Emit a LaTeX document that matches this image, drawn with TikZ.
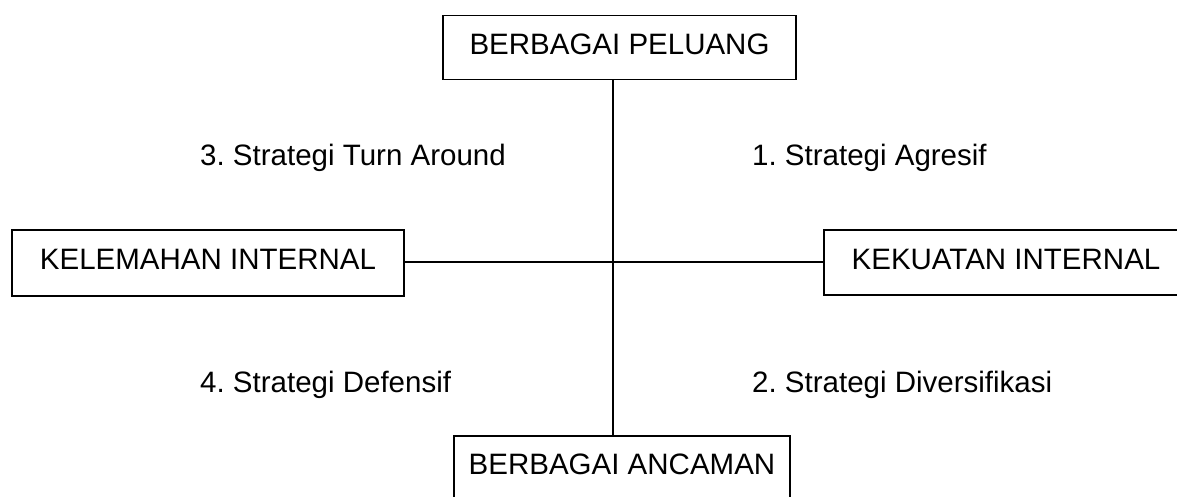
\documentclass[tikz,border=0pt]{standalone}
\usepackage{fontspec}
\setmainfont{Liberation Sans}
\frenchspacing
\begin{document}
\begin{tikzpicture}[x=1pt,y=1pt,
  every node/.style={font=\fontsize{29.5}{34}\selectfont},
  boxnode/.style={draw=black,line width=1.4pt,rectangle,inner sep=0pt,text depth=7pt,minimum height=64pt},
  conn/.style={draw=black,line width=1.4pt},
  quad/.style={anchor=base west,inner sep=0pt}]
\useasboundingbox (0,0) rectangle (1177,496);
\begin{scope}
\clip (0,0) rectangle (1177,496);
\node[boxnode,minimum width=353pt] (top) at (619.5,448.5) {BERBAGAI PELUANG};
\node[boxnode,minimum width=336pt,minimum height=63pt] (bot) at (622,28.5) {BERBAGAI ANCAMAN};
\node[boxnode,minimum width=392pt,minimum height=66pt] (left) at (208,233) {KELEMAHAN INTERNAL};
\node[boxnode,minimum width=364pt,minimum height=65pt] (right) at (1006,233.5) {KEKUATAN INTERNAL\hspace{6pt}};
\coordinate (c) at (613,234);
\draw[conn] (top.south -| c) -- (bot.north -| c);
\draw[conn] (left.east |- c) -- (right.west |- c);
\node[quad] (q3) at (200,330) {3. Strategi Turn Around};
\node[quad] (q1) at (752,330) {1. Strategi Agresif};
\node[quad] (q4) at (200,104) {4. Strategi Defensif};
\node[quad] (q2) at (752,104) {2. Strategi Diversifikasi};
\end{scope}
\end{tikzpicture}
\end{document}
